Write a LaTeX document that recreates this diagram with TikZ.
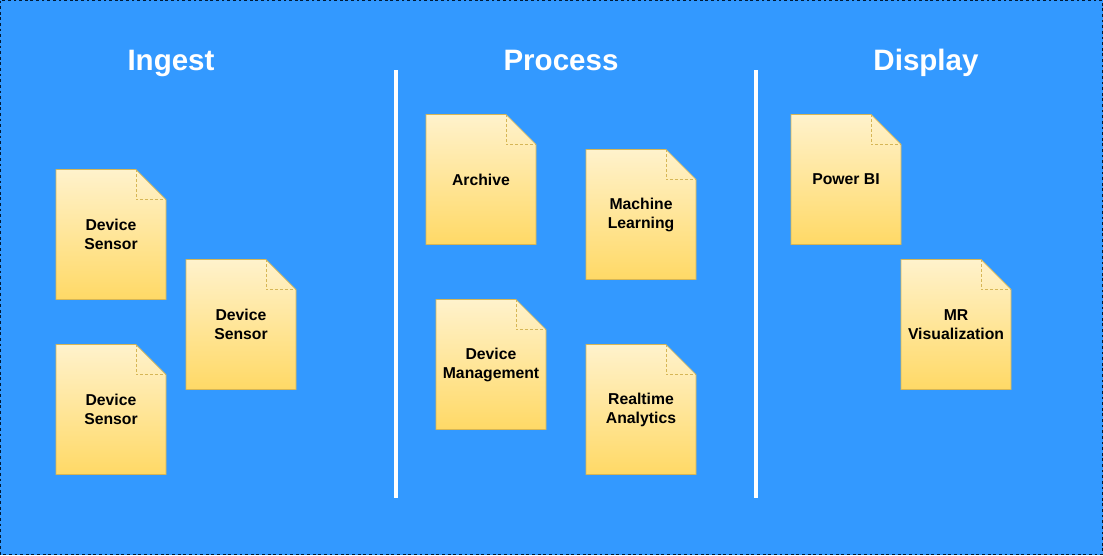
\documentclass[tikz,border=0pt]{standalone}
\usepackage{fontspec}
\setmainfont{Liberation Sans}
\usepackage{tikz}

\definecolor{panelblue}{HTML}{3399FF}
\definecolor{edgenavy}{HTML}{001933}
\definecolor{notetop}{HTML}{FFF2CC}
\definecolor{notebottom}{HTML}{FFD966}
\definecolor{noteline}{HTML}{D6B656}

\begin{document}
\begin{tikzpicture}[x=0.025cm, y=-0.025cm,
    heading/.style={anchor=base, text=white, font=\bfseries\fontsize{21}{25}\selectfont},
    notetext/.style={align=center, font=\bfseries\fontsize{11.2}{13.5}\selectfont},
    notefill/.style={top color=notetop, bottom color=notebottom, draw=noteline, line width=0.5pt},
    fold/.style={draw=noteline, dashed, dash pattern=on 2pt off 1.5pt, line width=0.5pt},
    divider/.style={white, line width=3.5pt}]
        \useasboundingbox (0,0) rectangle (1103,555);
        \fill[panelblue] (0,0) rectangle (1103,555);
        \draw[edgenavy, line width=0.6pt, dash pattern=on 2pt off 2pt] (0.5,0.5) rectangle (1102.5,554.5);

        \node[heading] (ingest) at (171,70.5) {Ingest};
        \node[heading] (process) at (561,70.5) {Process};
        \node[heading] (display) at (926,70.5) {Display};

        \draw[divider] (396,70) -- (396,498);
        \draw[divider] (756,70) -- (756,498);

        \foreach \nm/\cx/\cy/\txt in {
            sensorA/111/234.5/{Device\\Sensor},
            sensorB/241/324.5/{Device\\Sensor},
            sensorC/111/409.5/{Device\\Sensor},
            archive/481/179.5/{Archive},
            learning/641/214.5/{Machine\\Learning},
            management/491/364.5/{Device\\Management},
            analytics/641/409.5/{Realtime\\Analytics},
            powerbi/846/179.5/{Power BI},
            mrvis/956/324.5/{MR\\Visualization}} {
          \shadedraw[notefill] (\cx-55,\cy-65) -- (\cx+25,\cy-65) -- (\cx+55,\cy-35)
            -- (\cx+55,\cy+65) -- (\cx-55,\cy+65) -- cycle;
          \draw[fold] (\cx+25,\cy-65) -- (\cx+25,\cy-35) -- (\cx+55,\cy-35);
          \node[notetext] (\nm) at (\cx,\cy) {\txt};
        }
    \end{tikzpicture}
\end{document}
